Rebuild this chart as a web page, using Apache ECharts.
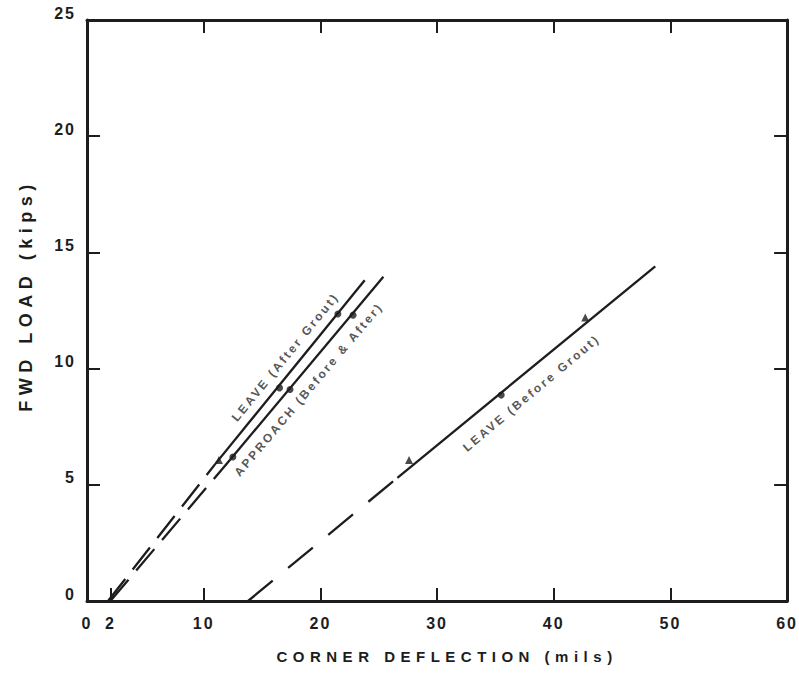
<!DOCTYPE html>
<html><head><meta charset="utf-8">
<script src="https://cdn.jsdelivr.net/npm/echarts@6/dist/echarts.min.js"></script>
<style>html,body{margin:0;padding:0;background:#fff}#c{width:799px;height:676px}</style>
</head><body><div id="c"></div>
<script>
// ---- data ----
const xTickValues = [0, 2, 10, 20, 30, 40, 50, 60];
const xFrameTicks = [10, 20, 30, 40, 50];
const yTickValues = [0, 5, 10, 15, 20, 25];
const xTitle = 'CORNER DEFLECTION (mils)';
const yTitle = 'FWD LOAD (kips)';

const leaveAfterDashed = [[1.8, 0], [11.0, 5.9]];
const leaveAfterSolid = [[11.0, 5.9], [23.8, 13.8]];
const leaveAfterTriangles = [[11.3, 6.07]];
const leaveAfterCircles = [[16.5, 9.17], [21.5, 12.35]];

const approachDashed = [[2.0, 0], [12.3, 6.1]];
const approachSolid = [[12.3, 6.1], [25.4, 13.95]];
const approachCircles = [[12.5, 6.2], [17.4, 9.1], [22.8, 12.3]];

const leaveBeforeDashed = [[13.8, 0], [26.6, 5.3]];
const leaveBeforeSolid = [[26.6, 5.3], [48.7, 14.4]];
const leaveBeforeTriangles = [[27.6, 6.07], [42.7, 12.2]];
const leaveBeforeCircles = [[35.5, 8.86]];

const annotationTexts = ['LEAVE (After Grout)', 'APPROACH (Before & After)', 'LEAVE (Before Grout)'];
const annotationAnchors = [[17.0, 10.5], [19.0, 9.1], [38.1, 8.95]];
const annotationAngles = [50.8, 49.8, 40];

// ---- chart ----
const ink = '#1d1d1d';
const font = 'Liberation Sans';
const chart = echarts.init(document.getElementById('c'), null, { renderer: 'svg' });

function seg(data, dash) {
  return { type: 'line', data: data, symbol: 'none', silent: true, z: 3,
    lineStyle: { color: ink, width: 2.3, type: dash || 'solid', cap: 'butt' } };
}
function pts(data, symbol, size) {
  return { type: 'scatter', data: data, symbol: symbol, symbolSize: size, silent: true, z: 4,
    itemStyle: { color: ink } };
}
const annotationSeries = annotationTexts.map((t, i) => ({
  type: 'scatter', data: [annotationAnchors[i]], symbolSize: 0, silent: true, z: 5,
  label: { show: true, position: 'inside', formatter: t, rotate: annotationAngles[i],
    color: '#2a2a2a', fontFamily: font, fontWeight: 'bold', fontSize: 12, align: 'center', verticalAlign: 'middle' }
}));

const frameLine = { show: true, onZero: false, lineStyle: { color: ink, width: 3 } };
chart.setOption({
  animation: false,
  backgroundColor: '#ffffff',
  grid: { left: 87, right: 10, top: 20, bottom: 75, containLabel: false },
  xAxis: [
    { type: 'value', min: 0, max: 60, interval: 10, position: 'bottom',
      axisLine: frameLine, splitLine: { show: false },
      axisTick: { show: true, inside: true, length: 13, customValues: xTickValues, lineStyle: { color: ink, width: 2 } },
      axisLabel: { customValues: xTickValues, margin: 14, color: ink, fontFamily: font, fontWeight: 'bold', fontSize: 16 },
      name: xTitle, nameLocation: 'middle', nameGap: 48,
      nameTextStyle: { color: ink, fontFamily: font, fontWeight: 'bold', fontSize: 15, padding: [0, 0, 0, 20] } },
    { type: 'value', min: 0, max: 60, interval: 10, position: 'top',
      axisLine: frameLine, splitLine: { show: false },
      axisTick: { show: true, inside: true, length: 13, customValues: xFrameTicks, lineStyle: { color: ink, width: 2 } },
      axisLabel: { show: false } }
  ],
  yAxis: [
    { type: 'value', min: 0, max: 25, interval: 5, position: 'left',
      axisLine: frameLine, splitLine: { show: false },
      axisTick: { show: true, inside: true, length: 13, lineStyle: { color: ink, width: 2 } },
      axisLabel: { margin: 11, color: ink, fontFamily: font, fontWeight: 'bold', fontSize: 16,
        verticalAlign: 'bottom', lineHeight: 14 },
      name: yTitle, nameLocation: 'middle', nameGap: 52,
      nameTextStyle: { color: ink, fontFamily: font, fontWeight: 'bold', fontSize: 18, padding: [0, 0, 0, 30] } },
    { type: 'value', min: 0, max: 25, interval: 5, position: 'right',
      axisLine: frameLine, splitLine: { show: false },
      axisTick: { show: true, inside: true, length: 13, lineStyle: { color: ink, width: 2 } },
      axisLabel: { show: false } }
  ],
  series: [
    seg(leaveAfterDashed, [28, 12]), seg(leaveAfterSolid),
    pts(leaveAfterTriangles, 'triangle', 8), pts(leaveAfterCircles, 'circle', 7),
    seg(approachDashed, [28, 12]), seg(approachSolid),
    pts(approachCircles, 'circle', 7),
    seg(leaveBeforeDashed, [32, 20]), seg(leaveBeforeSolid),
    pts(leaveBeforeTriangles, 'triangle', 8), pts(leaveBeforeCircles, 'circle', 7)
  ].concat(annotationSeries)
});

function spaceLetters() {
  document.querySelectorAll('#c text').forEach(el => {
    const s = el.textContent;
    let ls = 2;
    if (s === xTitle) ls = 5.5;
    else if (s === yTitle) ls = 5.5;
    else if (annotationTexts.indexOf(s) >= 0) ls = 2.5;
    el.style.letterSpacing = ls + 'px';
  });
}
chart.on('finished', spaceLetters);
setTimeout(spaceLetters, 50);
</script>
</body></html>
